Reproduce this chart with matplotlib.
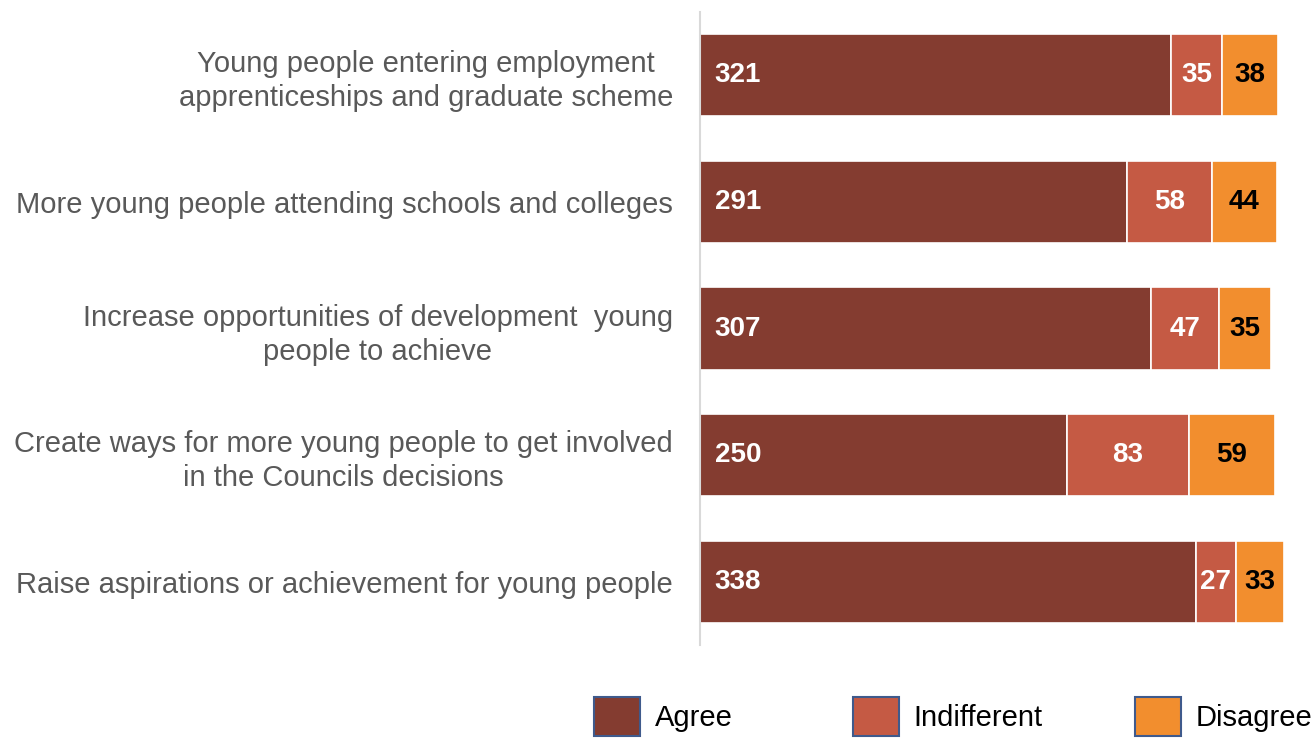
import matplotlib
matplotlib.use("Agg")
import matplotlib.pyplot as plt
from matplotlib.patches import Patch

plt.rcParams['font.family'] = ['Liberation Sans', 'DejaVu Sans']

categories = [
    "Young people entering employment\napprenticeships and graduate scheme",
    "More young people attending schools and colleges",
    "Increase opportunities of development  young\npeople to achieve",
    "Create ways for more young people to get involved\nin the Councils decisions",
    "Raise aspirations or achievement for young people",
]
agree = [321, 291, 307, 250, 338]
indifferent = [35, 58, 47, 83, 27]
disagree = [38, 44, 35, 59, 33]
series_names = ["Agree", "Indifferent", "Disagree"]
colors = ["#843C30", "#C55A44", "#F28E2E"]

W, H = 1316, 740
fig = plt.figure(figsize=(W / 100, H / 100), dpi=100)
ax = fig.add_axes([700 / W, 1 - 645 / H, 587 / W, (645 - 12) / H])

y = list(range(len(categories)))
left2 = [a for a in agree]
left3 = [a + b for a, b in zip(agree, indifferent)]
bh = 0.65
ax.barh(y, agree, height=bh, color=colors[0], edgecolor="white", linewidth=1.2)
ax.barh(y, indifferent, left=left2, height=bh, color=colors[1], edgecolor="white", linewidth=1.2)
ax.barh(y, disagree, left=left3, height=bh, color=colors[2], edgecolor="white", linewidth=1.2)

ax.set_ylim(len(categories) - 0.5, -0.5)
ax.set_xlim(0, 400)

fs_val = 20
for i in y:
    ax.text(10, i, str(agree[i]), color="white", fontweight="bold", fontsize=fs_val,
            ha="left", va="center")
    ax.text(left2[i] + indifferent[i] / 2, i, str(indifferent[i]), color="white",
            fontweight="bold", fontsize=fs_val, ha="center", va="center")
    ax.text(left3[i] + disagree[i] / 2, i, str(disagree[i]), color="black",
            fontweight="bold", fontsize=fs_val, ha="center", va="center")

ax.set_yticks(y)
ax.set_yticklabels(categories, fontsize=21, color="#595959", multialignment="center",
                   linespacing=1.28)
ax.tick_params(axis="y", length=0, pad=19.5)
ax.set_xticks([])
for s in ["top", "right", "bottom"]:
    ax.spines[s].set_visible(False)
ax.spines["left"].set_color("#D9D9D9")
ax.spines["left"].set_linewidth(1.5)

legend_x = [594, 853, 1135]
for c, n, lx in zip(colors, series_names, legend_x):
    h = Patch(facecolor=c, edgecolor="#3F5A8C", linewidth=1.5, label=n)
    fig.legend(handles=[h], loc="upper left", bbox_to_anchor=(lx / W, 1 - 697 / H),
               frameon=False, fontsize=21, handlelength=1.58, handleheight=1.7,
               handletextpad=0.5, borderaxespad=0, borderpad=0)

fig.savefig("out.png", dpi=100)
